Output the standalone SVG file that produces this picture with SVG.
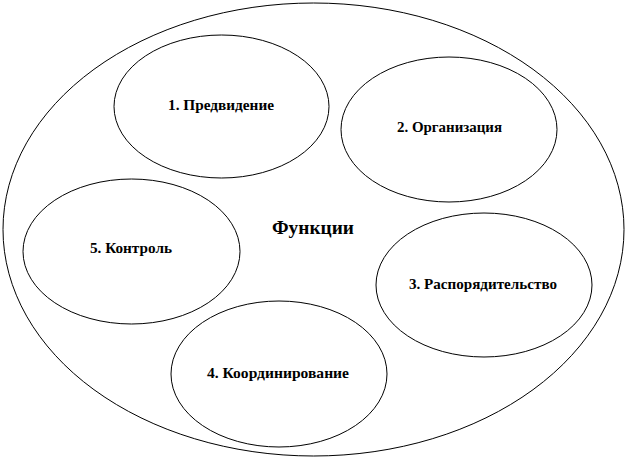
<svg xmlns="http://www.w3.org/2000/svg" width="626" height="458" viewBox="0 0 626 458">
<style>
.e{fill:none;stroke:#000;stroke-width:1}
text{font-family:'Liberation Serif','Times New Roman',serif;font-weight:bold;fill:#000}
.t{font-size:15px}
.c{font-size:19px}
</style>
<rect width="626" height="458" fill="#fff"/>
<g id="outer">
<ellipse class="e" cx="313.5" cy="229.5" rx="310.5" ry="226.5"/>
<text class="c" x="272" y="234" textLength="82" lengthAdjust="spacingAndGlyphs">Функции</text>
</g>
<g id="n1">
<ellipse class="e" cx="221.5" cy="106.5" rx="107.5" ry="71.5"/>
<text class="t" x="168" y="110" textLength="106" lengthAdjust="spacingAndGlyphs">1. Предвидение</text>
</g>
<g id="n2">
<ellipse class="e" cx="449" cy="129.5" rx="108" ry="72.5"/>
<text class="t" x="397" y="132" textLength="105" lengthAdjust="spacingAndGlyphs">2. Организация</text>
</g>
<g id="n3">
<ellipse class="e" cx="484" cy="285" rx="108" ry="72"/>
<text class="t" x="409" y="289" textLength="148" lengthAdjust="spacingAndGlyphs">3. Распорядительство</text>
</g>
<g id="n4">
<ellipse class="e" cx="279" cy="374" rx="108" ry="73"/>
<text class="t" x="207" y="378" textLength="142" lengthAdjust="spacingAndGlyphs">4. Координирование</text>
</g>
<g id="n5">
<ellipse class="e" cx="131.5" cy="251.5" rx="108.5" ry="72.5"/>
<text class="t" x="90" y="253" textLength="82" lengthAdjust="spacingAndGlyphs">5. Контроль</text>
</g>
<g id="connectors"></g>
</svg>
